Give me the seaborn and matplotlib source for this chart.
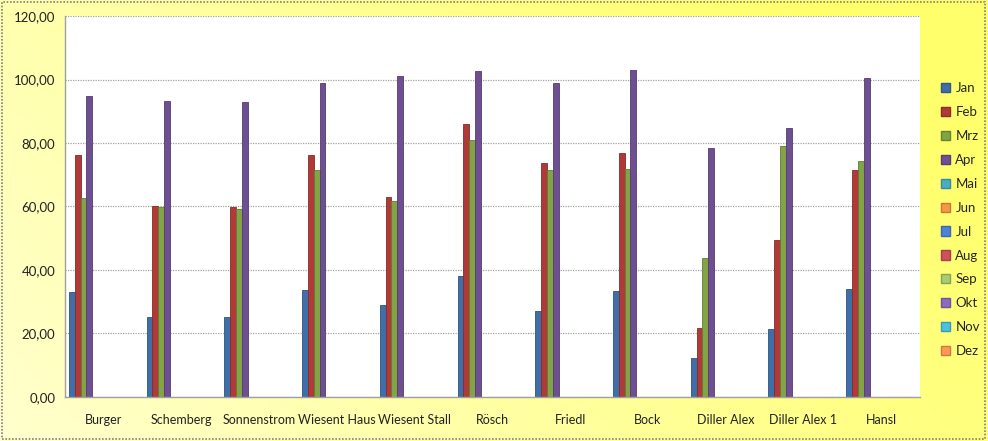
import numpy as np
import pandas as pd
import matplotlib
matplotlib.use("Agg")
import matplotlib.pyplot as plt
import seaborn as sns
from matplotlib.patches import Patch, Rectangle
from matplotlib.ticker import FuncFormatter, MultipleLocator

categories = ["Burger", "Schemberg", "Sonnenstrom", "Wiesent Haus", "Wiesent Stall",
              "Rösch", "Friedl", "Bock", "Diller Alex", "Diller Alex 1", "Hansl"]
months = ["Jan", "Feb", "Mrz", "Apr", "Mai", "Jun", "Jul", "Aug", "Sep", "Okt", "Nov", "Dez"]

jan = [33.2, 25.3, 25.3, 33.7, 29.0, 38.1, 27.1, 33.4, 12.4, 21.3, 34.0]
feb = [76.1, 60.3, 59.8, 76.1, 62.9, 86.1, 73.8, 76.7, 21.6, 49.5, 71.6]
mrz = [62.8, 59.7, 59.2, 71.4, 61.7, 81.1, 71.4, 71.7, 43.9, 78.9, 74.2]
apr = [94.8, 93.2, 92.8, 98.9, 101.2, 102.6, 98.9, 103.1, 78.3, 84.6, 100.5]

colors = ["#4F81BD", "#C0504D", "#9BBB59", "#8064A2", "#4BACC6", "#F79646",
          "#4F81D9", "#D0505D", "#A8CC72", "#8A6CC0", "#4BC0E0", "#FF9955"]
bar_colors = ["#3F6EA8", "#B03A37", "#83A347", "#6E5092"] + colors[4:]

rows = []
for m, vals in zip(months[:4], [jan, feb, mrz, apr]):
    for c, v in zip(categories, vals):
        rows.append({"Kategorie": c, "Monat": m, "Wert": v})
df = pd.DataFrame(rows)

sns.set_style("white")
plt.rcParams["font.family"] = ["Lato", "DejaVu Sans"]

fig = plt.figure(figsize=(9.88, 4.41), dpi=100)

# gradient background
bg = fig.add_axes([0, 0, 1, 1], zorder=-10)
xx = np.linspace(0, 1, 256)
yy = np.linspace(0, 1, 64)
X, Y = np.meshgrid(xx, yy)
t = np.clip(0.2 + 0.65 * X + 0.25 * Y, 0, 1)
c0 = np.array([1.0, 1.0, 0.90])
c1 = np.array([1.0, 1.0, 0.42])
img = c0[None, None, :] * (1 - t[..., None]) + c1[None, None, :] * t[..., None]
bg.imshow(img, aspect="auto", extent=[0, 1, 0, 1], origin="lower")
bg.set_axis_off()
bg.add_patch(Rectangle((0.002, 0.004), 0.995, 0.992, transform=bg.transAxes, fill=False,
                       edgecolor="#808080", linestyle=(0, (1, 1)), linewidth=1.2))

ax = fig.add_axes([0.0658, 0.0998, 0.8654, 0.8639])
ax.set_facecolor("white")
sns.barplot(data=df, x="Kategorie", y="Wert", hue="Monat", order=categories,
            hue_order=months, palette=dict(zip(months, bar_colors)), width=0.9,
            gap=0, dodge=True, linewidth=0.6, edgecolor="#555555", errorbar=None,
            legend=False, ax=ax, saturation=1)
for p in ax.patches:
    fc = p.get_facecolor()
    p.set_edgecolor(tuple(np.array(fc[:3]) * 0.75) + (1,))

ax.set_ylim(0, 120)
ax.set_xlim(-0.5, len(categories) - 0.5)
ax.yaxis.set_major_locator(MultipleLocator(20))
ax.yaxis.set_major_formatter(FuncFormatter(lambda v, p: f"{v:.2f}".replace(".", ",")))
ax.grid(axis="y", color="#A0A0A0", linestyle=(0, (1, 1)), linewidth=0.9)
ax.set_axisbelow(True)
for s in ["top", "right"]:
    ax.spines[s].set_visible(False)
for s in ["left", "bottom"]:
    ax.spines[s].set_color("#A0A0A0")
    ax.spines[s].set_linewidth(1.0)
ax.set_xlabel("")
ax.set_ylabel("")
ax.tick_params(axis="x", which="major", length=0, pad=12, labelsize=9, colors="#222222")
ax.set_xticks(np.arange(-0.5, len(categories), 1.0), minor=True)
ax.tick_params(axis="x", which="minor", length=3, color="#A0A0A0", direction="out")
ax.tick_params(axis="y", length=4, color="#A0A0A0", labelsize=9.5, colors="#222222", pad=3)
for lbl in ax.get_yticklabels() + ax.get_xticklabels():
    lbl.set_color("#222222")

handles = [Patch(facecolor=c, edgecolor=tuple(np.array(matplotlib.colors.to_rgb(c)) * 0.8), label=m)
           for m, c in zip(months, bar_colors[:4] + colors[4:])]
fig.legend(handles=handles, loc="upper left", bbox_to_anchor=(0.947, 0.825), frameon=False,
           fontsize=9.5, handlelength=0.7, handleheight=0.7, handletextpad=0.4,
           labelspacing=0.9, borderaxespad=0)

fig.savefig("out.png", dpi=100)
